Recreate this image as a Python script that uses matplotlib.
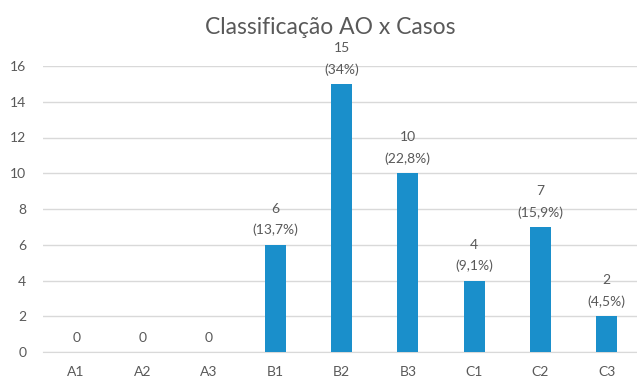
import matplotlib.pyplot as plt
import matplotlib.ticker as ticker

categorias = ['A1', 'A2', 'A3', 'B1', 'B2', 'B3', 'C1', 'C2', 'C3']
casos = [0, 0, 0, 6, 15, 10, 4, 7, 2]
percentuais = ['', '', '', '13,7%', '34%', '22,8%', '9,1%', '15,9%', '4,5%']

plt.rcParams['font.family'] = ['Lato', 'DejaVu Sans']
cinza = '#595959'
azul = '#1a8fcb'

fig = plt.figure(figsize=(6.37, 3.82), dpi=100)
ax = fig.add_axes([43 / 637, 30 / 382, 597 / 637, 286 / 382])

x = list(range(len(categorias)))
ax.bar(x, casos, width=0.32, color=azul, zorder=3)

# rótulos de valor acima das barras
for xi, v, p in zip(x, casos, percentuais):
    txt = f'{v}\n({p})' if p else f'{v}'
    ax.annotate(txt, (xi, v), xytext=(0, 6), textcoords='offset points',
                ha='center', va='bottom', fontsize=10, color=cinza,
                linespacing=1.85)

ax.set_xlim(-0.5, len(categorias) - 0.5)
ax.set_ylim(0, 16)
ax.yaxis.set_major_locator(ticker.MultipleLocator(2))
ax.set_xticks(x)
ax.set_xticklabels(categorias)
ax.tick_params(length=0, labelsize=10, labelcolor=cinza)
ax.tick_params(axis='x', pad=10)
ax.tick_params(axis='y', pad=12)
ax.grid(axis='y', color='#d9d9d9', linewidth=1, zorder=0)
for s in ['top', 'right', 'left']:
    ax.spines[s].set_visible(False)
ax.spines['bottom'].set_color('#d9d9d9')

fig.text(330 / 637, 1 - 28 / 382, 'Classificação AO x Casos', ha='center',
         va='center', fontsize=16.5, color=cinza)

plt.savefig('out.png')
